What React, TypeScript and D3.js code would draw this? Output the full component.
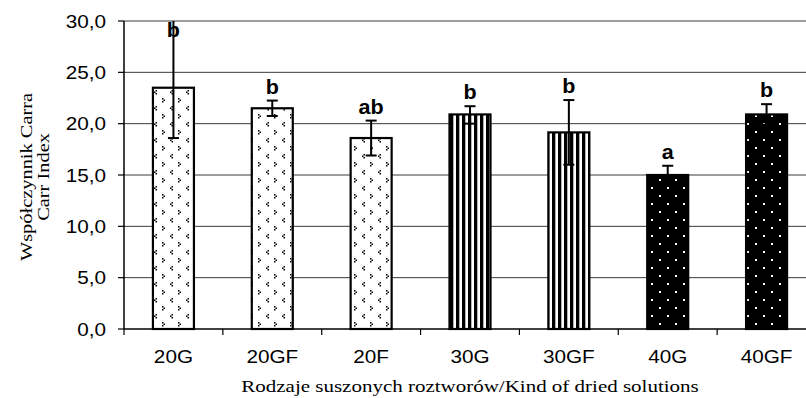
import React from "react";
import * as d3 from "d3";

const categories = ["20G", "20GF", "20F", "30G", "30GF", "40G", "40GF"];
const means = [23.5, 21.5, 18.6, 20.9, 19.15, 15.0, 20.9];
const errUp = [7.0, 0.75, 1.7, 0.8, 3.15, 0.9, 1.0];
const errDown = [4.9, 0.75, 1.7, 0.9, 3.15, 0.9, 1.0];
const letters = ["b", "b", "ab", "b", "b", "a", "b"];
const fills = ["chev", "chev", "chev", "stripe", "stripe", "dots", "dots"];
const yTicks = [0, 5, 10, 15, 20, 25, 30];

const W = 806;
const H = 398;
const left = 124;
const right = 816;
const top = 21;
const bottom = 329;

const SANS = "Liberation Sans, Arial, sans-serif";
const SERIF = "Liberation Serif, Times New Roman, serif";

export default function App() {
  const x = d3.scaleBand<string>().domain(categories).range([left, right]);
  const y = d3.scaleLinear().domain([0, 30]).range([bottom, top]);
  const bw = 41;
  const fmt = (v: number) => v.toFixed(1).replace(".", ",");
  const boundaries = d3.range(categories.length + 1).map((i) => left + i * x.bandwidth());
  const px = 1.5;

  return (
    <svg
      width={W}
      height={H}
      style={{ position: "absolute", left: 0, top: 0, background: "#fff" }}
    >
      <defs>
        <pattern id="chev" patternUnits="userSpaceOnUse" width={16} height={16} x={0} y={0}>
          <rect width={16} height={16} fill="#fff" />
          <rect x={2} y={2} width={px} height={px} fill="#000" />
          <rect x={2 + px} y={2 + px} width={px} height={px} fill="#000" />
          <rect x={2} y={2 + 2 * px} width={px} height={px} fill="#000" />
          <rect x={10 + px} y={10} width={px} height={px} fill="#000" />
          <rect x={10} y={10 + px} width={px} height={px} fill="#000" />
          <rect x={10 + px} y={10 + 2 * px} width={px} height={px} fill="#000" />
        </pattern>
        <pattern id="stripe" patternUnits="userSpaceOnUse" width={6} height={6} x={0} y={0}>
          <rect width={6} height={6} fill="#fff" />
          <rect width={3.3} height={6} fill="#000" />
        </pattern>
        <pattern id="dots" patternUnits="userSpaceOnUse" width={16} height={16} x={0} y={0}>
          <rect width={16} height={16} fill="#000" />
          <rect x={3} y={3} width={2} height={2} fill="#fff" />
          <rect x={11} y={11} width={2} height={2} fill="#fff" />
        </pattern>
        <clipPath id="plotClip">
          <rect x={left} y={top} width={right - left} height={bottom - top} />
        </clipPath>
      </defs>

      {/* gridlines */}
      {yTicks.filter((t) => t > 0).map((t) => (
        <line key={t} x1={left} x2={right} y1={y(t)} y2={y(t)} stroke="#3a3a3a" strokeWidth={1} />
      ))}

      {/* bars */}
      {categories.map((c, i) => {
        const cx = (x(c) as number) + x.bandwidth() / 2;
        return (
          <rect
            key={c}
            x={cx - bw / 2}
            y={y(means[i])}
            width={bw}
            height={bottom - y(means[i])}
            fill={`url(#${fills[i]})`}
            stroke="#000"
            strokeWidth={2.2}
          />
        );
      })}

      {/* error bars */}
      <g clipPath="url(#plotClip)">
        {categories.map((c, i) => {
          const cx = (x(c) as number) + x.bandwidth() / 2;
          const hi = means[i] + errUp[i];
          const lo = means[i] - errDown[i];
          return (
            <g key={c} stroke="#000" strokeWidth={2}>
              <line x1={cx} x2={cx} y1={y(lo)} y2={y(hi)} />
              <line x1={cx - 5.5} x2={cx + 5.5} y1={y(lo)} y2={y(lo)} />
              {hi <= 30 && <line x1={cx - 5.5} x2={cx + 5.5} y1={y(hi)} y2={y(hi)} />}
            </g>
          );
        })}
      </g>

      {/* letters */}
      {categories.map((c, i) => {
        const cx = (x(c) as number) + x.bandwidth() / 2;
        const hi = Math.min(means[i] + errUp[i], 30);
        const by = Math.max(y(hi) - 7, top + 16);
        return (
          <text
            key={c}
            transform={`translate(${cx},${by}) scale(1.05,1)`}
            textAnchor="middle"
            fontFamily={SANS}
            fontWeight="bold"
            fontSize={20.5}
            fill="#000"
          >
            {letters[i]}
          </text>
        );
      })}

      {/* y axis */}
      <line x1={left} x2={left} y1={top} y2={bottom} stroke="#000" strokeWidth={1.5} />
      {yTicks.map((t) => (
        <g key={t}>
          <line x1={left - 6} x2={left} y1={y(t)} y2={y(t)} stroke="#000" strokeWidth={1.2} />
          <text
            transform={`translate(${106},${y(t)}) scale(1.12,1)`}
            dy="0.36em"
            textAnchor="end"
            fontFamily={SANS}
            fontSize={18.5}
            fill="#000"
          >
            {fmt(t)}
          </text>
        </g>
      ))}

      {/* x axis */}
      <line x1={left} x2={right} y1={bottom} y2={bottom} stroke="#000" strokeWidth={1.5} />
      {boundaries.map((b, i) => (
        <line key={i} x1={b} x2={b} y1={bottom} y2={bottom + 6} stroke="#000" strokeWidth={1.2} />
      ))}
      {categories.map((c) => (
        <text
          key={c}
          transform={`translate(${(x(c) as number) + x.bandwidth() / 2},${363}) scale(1.12,1)`}
          textAnchor="middle"
          fontFamily={SANS}
          fontSize={18.5}
          fill="#000"
        >
          {c}
        </text>
      ))}

      {/* axis titles */}
      <text
        transform={`translate(${(left + right) / 2},${392}) scale(1.2,1)`}
        textAnchor="middle"
        fontFamily={SERIF}
        fontSize={17.5}
        fill="#000"
      >
        Rodzaje suszonych roztworów/Kind of dried solutions
      </text>
      <g transform={`translate(0, ${(top + bottom) / 2 + 2}) rotate(-90)`}>
        <text
          transform={`translate(0,${32}) scale(1.2,1)`}
          textAnchor="middle"
          fontFamily={SERIF}
          fontSize={17}
          fill="#000"
        >
          Współczynnik Carra
        </text>
        <text
          transform={`translate(0,${49}) scale(1.2,1)`}
          textAnchor="middle"
          fontFamily={SERIF}
          fontSize={17}
          fill="#000"
        >
          Carr Index
        </text>
      </g>
    </svg>
  );
}
